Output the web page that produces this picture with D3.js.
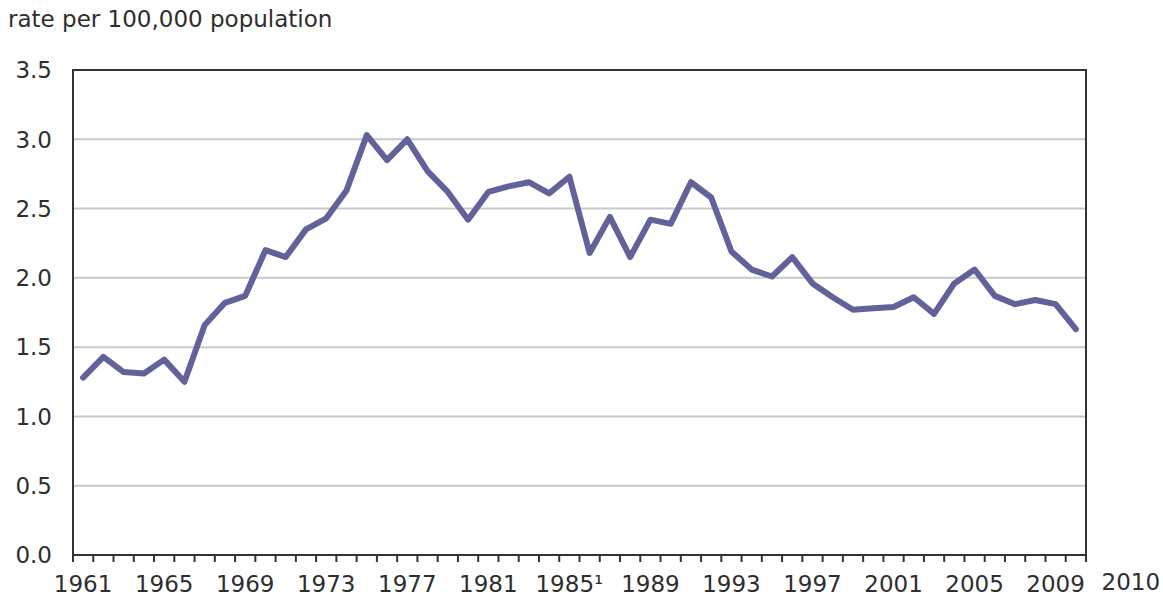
<!DOCTYPE html>
<html>
<head>
<meta charset="utf-8">
<script src="https://cdn.jsdelivr.net/npm/d3@7"></script>
<style>
  body { margin: 0; background: #fff; }
  text { font-family: "DejaVu Sans", Verdana, sans-serif; fill: #2e2e2e; }
</style>
</head>
<body>
<div id="chart"></div>
<script>
// years shown on the x axis (one band per year)
const years = d3.range(1961, 2011);

// rate per 100,000 population
const rates = [
    1.28, 1.43, 1.32, 1.31, 1.41, 1.25, 1.66, 1.82, 1.87, 2.20,
    2.15, 2.35, 2.43, 2.63, 3.03, 2.85, 3.00, 2.77, 2.62, 2.42,
    2.62, 2.66, 2.69, 2.61, 2.73, 2.18, 2.44, 2.15, 2.42, 2.39,
    2.69, 2.58, 2.19, 2.06, 2.01, 2.15, 1.96, 1.86, 1.77, 1.78,
    1.79, 1.86, 1.74, 1.96, 2.06, 1.87, 1.81, 1.84, 1.81, 1.63
];

const yTicks = [0, 0.5, 1.0, 1.5, 2.0, 2.5, 3.0, 3.5];
const labelYears = [1961, 1965, 1969, 1973, 1977, 1981, 1985, 1989, 1993, 1997, 2001, 2005, 2009, 2010];
const labelText = {1985: "1985\u00B9"};

const width = 1163;
const height = 599;
const margin = {top: 70, right: 77, bottom: 44, left: 73};
const fontSize = 23;

const svg = d3.select("#chart")
    .append("svg")
    .attr("width", width)
    .attr("height", height);

const x = d3.scaleBand()
    .domain(years)
    .range([margin.left, width - margin.right])
    .padding(0);

const y = d3.scaleLinear()
    .domain([0, 3.5])
    .range([height - margin.bottom, margin.top]);

// title
svg.append("text")
    .attr("x", 8)
    .attr("y", 27)
    .attr("font-size", fontSize)
    .text("rate per 100,000 population");

// gridlines
svg.append("g")
    .selectAll("line")
    .data(yTicks.filter(d => d > 0 && d < 3.5))
    .join("line")
    .attr("x1", margin.left)
    .attr("x2", width - margin.right)
    .attr("y1", d => y(d))
    .attr("y2", d => y(d))
    .attr("stroke", "#c9c9c9")
    .attr("stroke-width", 2);

// y labels
svg.append("g")
    .selectAll("text")
    .data(yTicks)
    .join("text")
    .attr("x", 52)
    .attr("y", d => y(d))
    .attr("dy", "0.36em")
    .attr("text-anchor", "end")
    .attr("font-size", fontSize)
    .text(d => d.toFixed(1));

// year ticks at band edges
const tickX = years.map(d => x(d)).concat([x.range()[1]]);
svg.append("g")
    .selectAll("line")
    .data(tickX)
    .join("line")
    .attr("x1", d => d)
    .attr("x2", d => d)
    .attr("y1", y(0))
    .attr("y2", y(0) + 7)
    .attr("stroke", "#333")
    .attr("stroke-width", 2);

// year labels
svg.append("g")
    .selectAll("text")
    .data(labelYears)
    .join("text")
    .attr("x", d => x(d) + x.bandwidth() / 2 + (d === 2010 ? 55 : 0))
    .attr("y", d => d === 2010 ? 590 : 592)
    .attr("text-anchor", "middle")
    .attr("font-size", fontSize)
    .text(d => labelText[d] || d);

// plot frame
svg.append("rect")
    .attr("x", margin.left)
    .attr("y", margin.top)
    .attr("width", width - margin.left - margin.right)
    .attr("height", height - margin.top - margin.bottom)
    .attr("fill", "none")
    .attr("stroke", "#333")
    .attr("stroke-width", 2);

// the series
const line = d3.line()
    .x((d, i) => x(years[i]) + x.bandwidth() / 2)
    .y(d => y(d));

svg.append("path")
    .datum(rates)
    .attr("d", line)
    .attr("fill", "none")
    .attr("stroke", "#62629b")
    .attr("stroke-width", 6)
    .attr("stroke-linejoin", "round")
    .attr("stroke-linecap", "round");
</script>
</body>
</html>
